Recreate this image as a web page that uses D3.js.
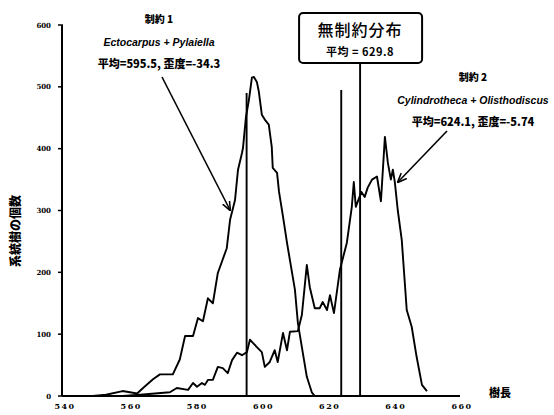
<!DOCTYPE html>
<html>
<head>
<meta charset="utf-8">
<script src="https://cdn.jsdelivr.net/npm/d3@7"></script>
<style>
body { margin: 0; background: #fff; }
svg text { fill: #000; }
</style>
</head>
<body>
<svg id="plotCanvas" width="554" height="415"></svg>
<script>
// 制約 1 (Ectocarpus + Pylaiella)
var c1Length = [549, 553, 558, 562.4, 564.2, 567.2, 569.3, 573.2, 575.3, 576.9, 579.3, 580.8, 582.3, 583.8, 585.3, 586.8, 589.5, 590.5, 592, 592.9, 594.1, 594.4, 595.3, 596.2, 597.1, 597.7, 598.6, 599.2, 600.1, 601, 602.2, 603.1, 603.4, 604.7, 605.3, 606.5, 607.7, 610.1, 611, 612.2, 613.7, 615.2, 616.1];
var c1Count  = [0, 2, 8, 4, 13, 27, 35, 35, 59, 97, 97, 126, 121, 158, 150, 199, 239, 285, 317, 366, 393, 401, 451, 479, 515, 516, 508, 492, 455, 447, 439, 403, 369, 361, 330, 290, 248, 172, 118, 79, 31, 6, 0];

// 制約 2 (Cylindrotheca + Olisthodiscus)
var c2Length = [558, 563.3, 572.3, 574.4, 577.8, 579.3, 580.5, 582, 582.9, 583.8, 585.3, 586.8, 588.3, 589.8, 591.1, 592.6, 594.1, 595.6, 596.5, 597.4, 598.6, 600.1, 601, 602.5, 604, 604.9, 606.5, 607.7, 608.6, 611, 612.2, 613.7, 614.6, 616.1, 617.6, 618.5, 619.8, 620.7, 621.9, 623.7, 625.8, 627.3, 627.9, 628.5, 630.2, 631.2, 632.1, 633.4, 634.9, 636.1, 637.3, 638.2, 639.1, 639.7, 640.3, 641.2, 642.4, 643.9, 645.4, 646.9, 648.5, 650];
var c2Count  = [0, 2, 6, 13, 10, 21, 15, 21, 18, 26, 26, 47, 45, 37, 58, 70, 66, 71, 91, 86, 79, 71, 47, 55, 74, 55, 102, 74, 104, 105, 131, 212, 176, 142, 142, 152, 139, 163, 134, 204, 248, 306, 346, 306, 330, 322, 337, 350, 355, 315, 419, 377, 350, 366, 346, 300, 252, 139, 112, 63, 18, 8];

var xTicks = [540, 560, 580, 600, 620, 640, 660];
var yTicks = [0, 100, 200, 300, 400, 500, 600];

var mean1 = 595.5, mean2 = 624.1, meanAll = 629.8;
var meanTop1 = 490, meanTop2 = 495, meanTopAll = 539;

var canvas = d3.select("#plotCanvas");
var jp = "'Noto Sans CJK JP', 'Noto Sans', sans-serif";

var x = d3.scaleLinear().domain([540, 660]).range([63, 460]);
var y = d3.scaleLinear().domain([0, 600]).range([396, 25]);

// axes
canvas.append("line")
    .attr("x1", x(540) - 1).attr("x2", x(660))
    .attr("y1", y(0)).attr("y2", y(0))
    .attr("stroke", "#000").attr("stroke-width", 2);
canvas.append("line")
    .attr("x1", x(540) - 1).attr("x2", x(540) - 1)
    .attr("y1", y(0)).attr("y2", y(600))
    .attr("stroke", "#000").attr("stroke-width", 2);

canvas.selectAll(".ytick").data(yTicks).enter().append("line")
    .attr("x1", x(540) - 5).attr("x2", x(540))
    .attr("y1", function(d) { return y(d); })
    .attr("y2", function(d) { return y(d); })
    .attr("stroke", "#000").attr("stroke-width", 1.5);

canvas.selectAll(".ylab").data(yTicks).enter().append("text")
    .attr("x", 51)
    .attr("y", function(d) { return y(d) + 2.5; })
    .attr("text-anchor", "end")
    .attr("font-family", "'DejaVu Serif', serif")
    .attr("font-weight", "bold")
    .attr("font-size", "7px")
    .text(function(d) { return d; });

canvas.selectAll(".xlab").data(xTicks).enter().append("text")
    .attr("x", function(d) { return x(d) + 2; })
    .attr("y", 409)
    .attr("text-anchor", "middle")
    .attr("font-family", "'DejaVu Serif', serif")
    .attr("font-weight", "bold")
    .attr("font-size", "8px")
    .attr("letter-spacing", "1.5px")
    .text(function(d) { return d; });

// axis titles
canvas.append("text")
    .attr("transform", "translate(20,231) rotate(-90)")
    .attr("text-anchor", "middle")
    .attr("font-family", jp)
    .attr("font-weight", "900")
    .attr("font-size", "12px")
    .text("系統樹の個数");

canvas.append("text")
    .attr("x", 500).attr("y", 397)
    .attr("text-anchor", "middle")
    .attr("font-family", jp)
    .attr("font-weight", "900")
    .attr("font-size", "11px")
    .text("樹長");

// distributions
var line = d3.line()
    .x(function(d) { return x(d[0]); })
    .y(function(d) { return y(d[1]); });

canvas.append("path")
    .attr("d", line(d3.zip(c1Length, c1Count)))
    .attr("fill", "none").attr("stroke", "#000").attr("stroke-width", 1.9)
    .attr("stroke-linejoin", "round");

canvas.append("path")
    .attr("d", line(d3.zip(c2Length, c2Count)))
    .attr("fill", "none").attr("stroke", "#000").attr("stroke-width", 1.9)
    .attr("stroke-linejoin", "round");

// mean lines
var means = [[mean1, meanTop1], [mean2, meanTop2], [meanAll, meanTopAll]];
canvas.selectAll(".meanline").data(means).enter().append("line")
    .attr("x1", function(d) { return x(d[0]); })
    .attr("x2", function(d) { return x(d[0]); })
    .attr("y1", y(0))
    .attr("y2", function(d) { return y(d[1]); })
    .attr("stroke", "#000").attr("stroke-width", 1.9);

// box for unconstrained distribution
canvas.append("rect")
    .attr("x", x(meanAll) - 61).attr("y", 13)
    .attr("width", 123).attr("height", 50)
    .attr("rx", 4).attr("ry", 4)
    .attr("fill", "#fff").attr("stroke", "#000").attr("stroke-width", 2);

canvas.append("text")
    .attr("x", x(meanAll)).attr("y", 36)
    .attr("text-anchor", "middle")
    .attr("font-family", jp)
    .attr("font-weight", "500")
    .attr("font-size", "16px")
    .attr("letter-spacing", "1px")
    .text("無制約分布");

canvas.append("text")
    .attr("x", x(meanAll)).attr("y", 56)
    .attr("text-anchor", "middle")
    .attr("font-family", jp)
    .attr("font-weight", "bold")
    .attr("font-size", "11px")
    .attr("letter-spacing", "0.5px")
    .text("平均 = " + meanAll);

// annotations
function note(cx, cy, title, species, stats) {
    canvas.append("text")
        .attr("x", cx).attr("y", cy)
        .attr("text-anchor", "middle")
        .attr("font-family", jp).attr("font-weight", "900")
        .attr("font-size", "10px")
        .text(title);
    canvas.append("text")
        .attr("x", cx).attr("y", cy + 23)
        .attr("text-anchor", "middle")
        .attr("font-family", "'Liberation Sans', sans-serif")
        .attr("font-style", "italic")
        .attr("font-weight", "bold")
        .attr("font-size", "10.5px")
        .text(species);
    canvas.append("text")
        .attr("x", cx).attr("y", cy + 45)
        .attr("text-anchor", "middle")
        .attr("font-family", jp).attr("font-weight", "900")
        .attr("font-size", "11px")
        .text(stats);
}

note(159, 23, "制約 1", "Ectocarpus + Pylaiella", "平均=595.5, 歪度=-34.3");
note(473, 81, "制約 2", "Cylindrotheca + Olisthodiscus", "平均=624.1, 歪度=-5.74");

canvas.append("defs").append("marker")
    .attr("id", "arrow")
    .attr("viewBox", "0 0 10 10")
    .attr("refX", 9).attr("refY", 5)
    .attr("markerWidth", 6).attr("markerHeight", 6)
    .attr("orient", "auto")
    .append("path")
    .attr("d", "M0,1 L10,5 L0,9")
    .attr("fill", "none").attr("stroke", "#000").attr("stroke-width", 1.6);

canvas.append("line")
    .attr("x1", 162).attr("y1", 77).attr("x2", 230).attr("y2", 210)
    .attr("stroke", "#000").attr("stroke-width", 1.6)
    .attr("marker-end", "url(#arrow)");

canvas.append("line")
    .attr("x1", 447).attr("y1", 131).attr("x2", 398).attr("y2", 182)
    .attr("stroke", "#000").attr("stroke-width", 1.6)
    .attr("marker-end", "url(#arrow)");
</script>
</body>
</html>
